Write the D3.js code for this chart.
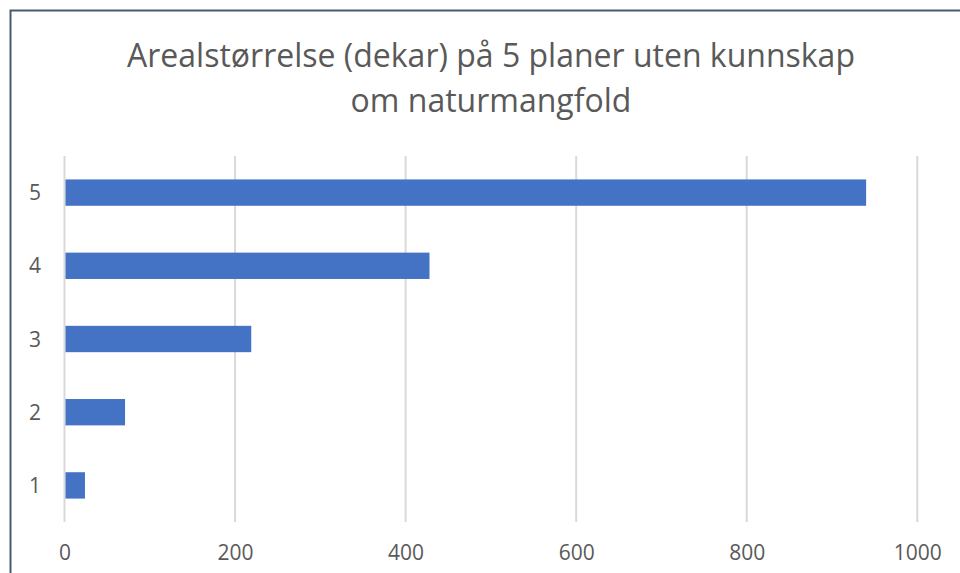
<!DOCTYPE html>
<html>
<head>
<meta charset="utf-8">
<script src="https://cdn.jsdelivr.net/npm/d3@7"></script>
<style>
  body { margin: 0; background: #fff; }
  svg text { font-family: "Open Sans", "DejaVu Sans", sans-serif; fill: #595959; }
</style>
</head>
<body>
<svg id="chart" width="960" height="573"></svg>
<script>
// chart data
var titleLines = ['Arealstørrelse (dekar) på 5 planer uten kunnskap', 'om naturmangfold'];
var categories = ['5', '4', '3', '2', '1'];
var values = [940, 428, 219, 71, 24];
var xTicks = [0, 200, 400, 600, 800, 1000];

var svg = d3.select('#chart');

//outer frame (only top/left visible in the crop)
svg.append('rect')
  .attr('x', 10.5)
  .attr('y', 10.5)
  .attr('width', 1000)
  .attr('height', 1000)
  .attr('fill', 'none')
  .attr('stroke', '#4a5a6c')
  .attr('stroke-width', 2);

//title
svg.append('g')
  .selectAll('text')
  .data(titleLines)
  .enter().append('text')
  .attr('x', 491)
  .attr('y', function(d, i) { return 67 + i * 45; })
  .attr('text-anchor', 'middle')
  .style('font-size', '32px')
  .text(function(d) { return d; });

var x = d3.scaleLinear()
  .domain([0, 1000])
  .range([64.5, 917.3]);

var y = d3.scaleBand()
  .domain(categories)
  .range([156, 522])
  .paddingInner(0.64)
  .paddingOuter(0.32);

//gridlines
svg.append('g')
  .selectAll('line')
  .data(xTicks)
  .enter().append('line')
  .attr('x1', function(d) { return x(d); })
  .attr('x2', function(d) { return x(d); })
  .attr('y1', 156)
  .attr('y2', 522)
  .attr('stroke', '#d9d9d9')
  .attr('stroke-width', 2);

//bars
svg.append('g')
  .selectAll('rect')
  .data(values)
  .enter().append('rect')
  .attr('x', x(0) + 1)
  .attr('y', function(d, i) { return y(categories[i]); })
  .attr('width', function(d) { return x(d) - x(0) - 1; })
  .attr('height', y.bandwidth())
  .attr('fill', '#4472c4');

//x axis labels
var xAxis = svg.append('g')
  .attr('transform', 'translate(0,522)')
  .call(d3.axisBottom(x).tickValues(xTicks).tickFormat(d3.format('d')).tickSize(0).tickPadding(38));
xAxis.select('.domain').remove();
xAxis.selectAll('text')
  .style('font-size', '21px')
  .attr('dy', 0);

//y axis labels
var yAxis = svg.append('g')
  .attr('transform', 'translate(41,0)')
  .call(d3.axisLeft(y).tickSize(0).tickPadding(0));
yAxis.select('.domain').remove();
yAxis.selectAll('text')
  .style('font-size', '21px')
  .attr('dy', '0.36em');
</script>
</body>
</html>
